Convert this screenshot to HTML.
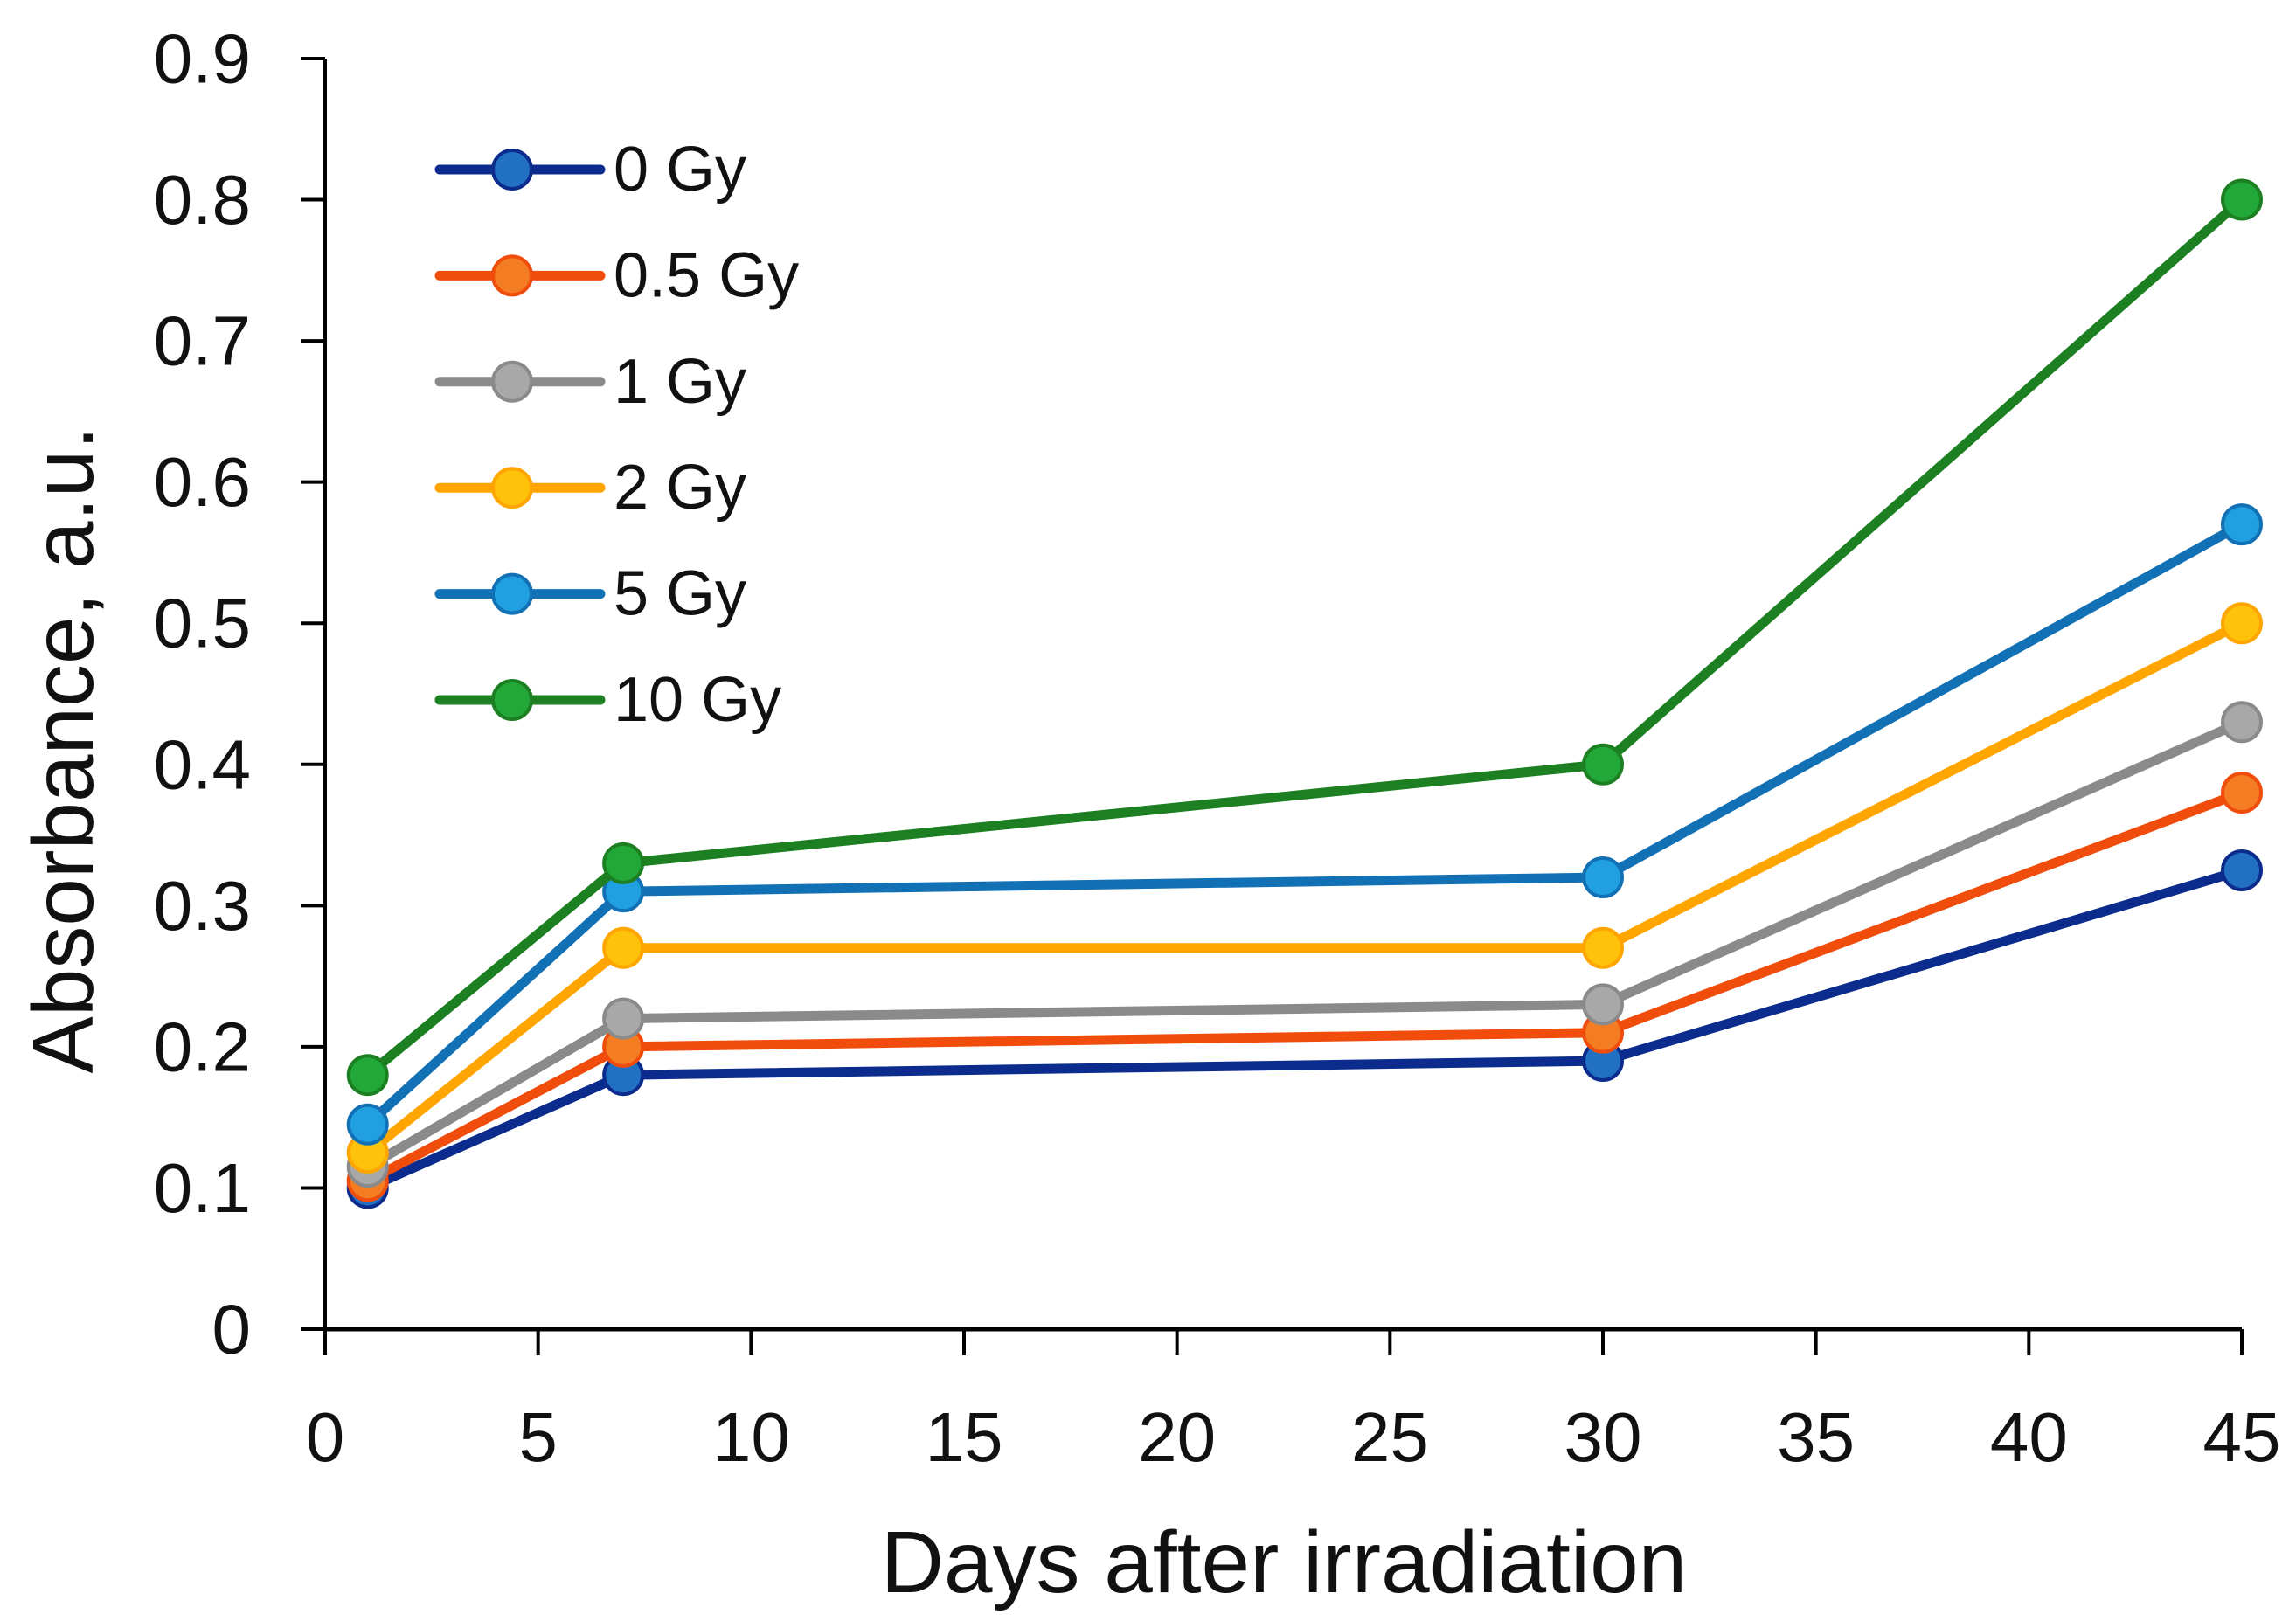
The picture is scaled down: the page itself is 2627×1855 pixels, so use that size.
<!DOCTYPE html>
<html><head><meta charset="utf-8"><style>
body{margin:0;background:#fff}
svg{display:block;font-family:"Liberation Sans",sans-serif}
</style></head><body>
<svg id="chart" width="2627" height="1855" viewBox="0 0 2627 1855">
<g id="axes"></g>
<g id="series"></g>
<g id="legend"></g>
<text x="72" y="858" transform="rotate(-90 72 858)" text-anchor="middle" dominant-baseline="central" font-size="98" fill="#111">Absorbance, a.u.</text>
<text x="1469" y="1822" text-anchor="middle" font-size="100" fill="#111">Days after irradiation</text>
</svg>
<script>
const days = [1, 7, 30, 45];
const seriesNames = ["0 Gy", "0.5 Gy", "1 Gy", "2 Gy", "5 Gy", "10 Gy"];
const s0 = [0.10, 0.18, 0.19, 0.325];
const s05 = [0.105, 0.20, 0.21, 0.38];
const s1 = [0.115, 0.22, 0.23, 0.43];
const s2 = [0.125, 0.27, 0.27, 0.50];
const s5 = [0.145, 0.31, 0.32, 0.57];
const s10 = [0.18, 0.33, 0.40, 0.80];
const xTicks = [0, 5, 10, 15, 20, 25, 30, 35, 40, 45];
const yTicks = ["0", "0.1", "0.2", "0.3", "0.4", "0.5", "0.6", "0.7", "0.8", "0.9"];

const values = [s0, s05, s1, s2, s5, s10];
const lineColors = ["#0b2c8c", "#f04c0c", "#8a8a8a", "#ffa500", "#1270b5", "#1c8022"];
const fillColors = ["#2170c4", "#f47c22", "#a8a8a8", "#ffc20a", "#20a0e0", "#22a838"];
const X0 = 372, X1 = 2565, Y0 = 1521, Y1 = 67;
const xs = v => X0 + (v / 45) * (X1 - X0);
const ys = v => Y0 - (v / 0.9) * (Y0 - Y1);
const NS = "http://www.w3.org/2000/svg";
function mk(tag, attrs, parent) {
  const e = document.createElementNS(NS, tag);
  for (const k in attrs) e.setAttribute(k, attrs[k]);
  parent.appendChild(e);
  return e;
}
const axes = document.getElementById("axes");
let a = mk("line", {x1: X0, y1: Y1, x2: X0, y2: Y0, stroke: "#000", "stroke-width": 4}, axes);


a = mk("line", {x1: X0, y1: Y0, x2: X1, y2: Y0, stroke: "#000", "stroke-width": 5}, axes);


yTicks.forEach(t => {
  const y = ys(parseFloat(t));
  const tk = mk("line", {x1: X0 - 28, y1: y, x2: X0, y2: y, stroke: "#000", "stroke-width": 4}, axes);
  
  
  const tx = mk("text", {x: 287, y: y, "text-anchor": "end", "dominant-baseline": "central", "font-size": 80, fill: "#111"}, axes);
  tx.textContent = t;
  
  
});
xTicks.forEach(t => {
  const x = xs(t);
  const tk = mk("line", {x1: x, y1: Y0, x2: x, y2: Y0 + 30, stroke: "#000", "stroke-width": 4}, axes);
  
  
  const tx = mk("text", {x: x, y: 1672, "text-anchor": "middle", "font-size": 80, fill: "#111"}, axes);
  tx.textContent = t;
  
  
});
const sg = document.getElementById("series");
values.forEach((vals, i) => {
  const g = mk("g", {}, sg);
  
  
  const pts = vals.map((v, j) => xs(days[j]) + "," + ys(v)).join(" ");
  const pl = mk("polyline", {points: pts, fill: "none", stroke: lineColors[i], "stroke-width": 11, "stroke-linejoin": "round"}, g);
  
  
  vals.forEach((v, j) => {
    const c = mk("circle", {cx: xs(days[j]), cy: ys(v), r: 22, fill: fillColors[i], stroke: lineColors[i], "stroke-width": 4}, g);
    
    
  });
});
const lg = document.getElementById("legend");
seriesNames.forEach((n, i) => {
  const y = 194 + i * 121.4;
  const g = mk("g", {}, lg);
  
  
  mk("line", {x1: 503, y1: y, x2: 687, y2: y, stroke: lineColors[i], "stroke-width": 11, "stroke-linecap": "round"}, g);
  mk("circle", {cx: 586, cy: y, r: 22, fill: fillColors[i], stroke: lineColors[i], "stroke-width": 4}, g);
  const t = mk("text", {x: 702, y: y, "dominant-baseline": "central", "font-size": 72, fill: "#111"}, g);
  t.textContent = n;
});
</script>
</body></html>
